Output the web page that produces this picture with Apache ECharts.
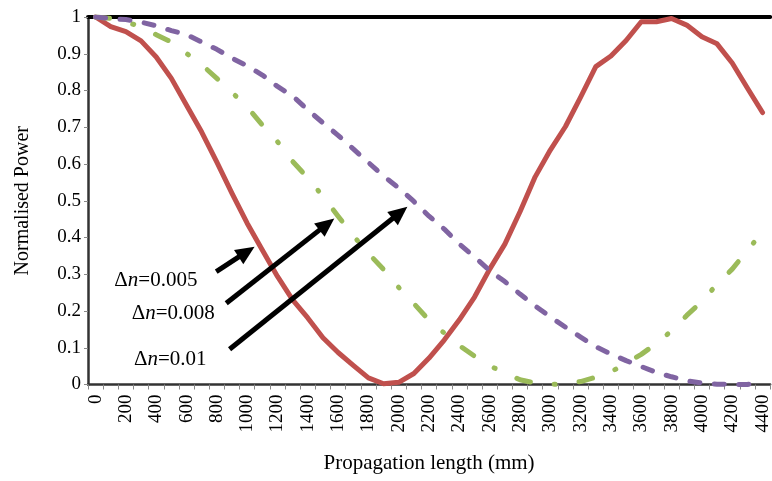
<!DOCTYPE html>
<html>
<head>
<meta charset="utf-8">
<script src="https://cdn.jsdelivr.net/npm/echarts@6/dist/echarts.min.js"></script>
<style>
html,body{margin:0;padding:0;background:#fff;}
#chart{width:772px;height:481px;}
</style>
</head>
<body>
<div id="chart"></div>
<script>
// Propagation length categories (mm)
const lengths = [0,100,200,300,400,500,600,700,800,900,1000,1100,1200,1300,1400,1500,1600,1700,1800,1900,2000,2100,2200,2300,2400,2500,2600,2700,2800,2900,3000,3100,3200,3300,3400,3500,3600,3700,3800,3900,4000,4100,4200,4300,4400];
// Normalised power, solid red curve
const redCurve = [1.0,0.974,0.96,0.935,0.891,0.833,0.76,0.687,0.605,0.52,0.439,0.366,0.294,0.23,0.181,0.127,0.087,0.052,0.018,0.002,0.006,0.03,0.072,0.121,0.176,0.238,0.314,0.382,0.47,0.565,0.638,0.702,0.782,0.865,0.894,0.936,0.987,0.987,0.996,0.978,0.946,0.927,0.875,0.807,0.74];
// Normalised power, green dash-dot curve
const greenCurve = [1.0,0.996,0.988,0.972,0.952,0.932,0.901,0.87,0.833,0.795,0.755,0.706,0.661,0.607,0.562,0.512,0.458,0.405,0.357,0.313,0.264,0.22,0.175,0.14,0.106,0.077,0.051,0.031,0.013,0.004,0.0,0.002,0.008,0.02,0.034,0.058,0.082,0.112,0.146,0.188,0.226,0.273,0.314,0.365,0.415];
// Normalised power, purple dashed curve
const purpleCurve = [1.0,0.996,0.993,0.986,0.976,0.963,0.952,0.932,0.912,0.888,0.867,0.842,0.811,0.785,0.747,0.712,0.678,0.641,0.604,0.567,0.535,0.498,0.458,0.423,0.382,0.347,0.31,0.28,0.246,0.214,0.184,0.156,0.129,0.103,0.083,0.065,0.049,0.033,0.021,0.01,0.004,0.001,0.0,0.0,0.007];
// Annotation labels
const annotationLabels = ['0.005','0.008','0.01'];

const FONT = '"Liberation Serif","Times New Roman",serif';
const chart = echarts.init(document.getElementById('chart'), null, {renderer:'canvas'});
const cats = lengths.map(String);

const option = {
  animation:false,
  backgroundColor:'#fff',
  grid:{left:88,right:0,top:17,bottom:96.5,containLabel:false},
  xAxis:[{
    type:'category',
    data:cats,
    boundaryGap:true,
    name:'Propagation length (mm)',
    nameLocation:'middle',
    nameGap:68,
    nameTextStyle:{fontFamily:FONT,fontSize:21,color:'#000'},
    axisLine:{onZero:false,lineStyle:{color:'#333',width:2.5}},
    axisTick:{show:true,interval:0,length:5,lineStyle:{color:'#888',width:1}},
    axisLabel:{interval:1,rotate:90,margin:10,fontFamily:FONT,fontSize:19,color:'#000'},
    splitLine:{show:false}
  },{
    type:'category',
    data:cats,
    position:'top',
    boundaryGap:true,
    axisLine:{onZero:false,lineStyle:{color:'#000',width:4}},
    axisTick:{show:false},
    axisLabel:{show:false},
    splitLine:{show:false}
  }],
  yAxis:{
    type:'value',
    min:0,max:1,interval:0.1,
    name:'Normalised Power',
    nameLocation:'middle',
    nameGap:55,
    nameRotate:90,
    nameTextStyle:{fontFamily:FONT,fontSize:20,color:'#000'},
    axisLine:{show:true,lineStyle:{color:'#333',width:2.5}},
    axisTick:{show:true,length:4,lineStyle:{color:'#888',width:1}},
    axisLabel:{margin:7,fontFamily:FONT,fontSize:19,color:'#000',
      formatter:function(v){return String(Math.round(v*10)/10);}},
    splitLine:{show:false}
  },
  series:[
    {type:'line',name:'red',data:redCurve,symbol:'none',z:2,
      lineStyle:{color:'#C0504D',width:5,cap:'round',join:'round'}},
    {type:'line',name:'green',data:greenCurve,symbol:'none',z:3,
      lineStyle:{color:'#9BBB59',width:5,type:[14,24,1,24],cap:'round',join:'round'}},
    {type:'line',name:'purple',data:purpleCurve,symbol:'none',z:4,
      lineStyle:{color:'#8064A2',width:5,type:[10,14.5],cap:'round',join:'round'}}
  ]
};
chart.setOption(option);

// annotation positions in data units (mm, normalised power)
const p0 = chart.convertToPixel({xAxisIndex:0,yAxisIndex:0},[0,0]);
const p1 = chart.convertToPixel({xAxisIndex:0,yAxisIndex:0},[lengths.length-1,1]);
function toPx(mm,v){
  return [p0[0]+(p1[0]-p0[0])*mm/lengths[lengths.length-1], p0[1]+(p1[1]-p0[1])*v];
}
const arrows = [
  {from:[796,0.307],to:[1049,0.375]},
  {from:[862,0.221],to:[1575,0.452]},
  {from:[884,0.096],to:[2057,0.484]}
];
const texts = [[398,0.282],[512,0.193],[493,0.067]];
const graphics = [];
arrows.forEach(function(a){
  const s = toPx(a.from[0],a.from[1]);
  const e = toPx(a.to[0],a.to[1]);
  const dx = e[0]-s[0], dy = e[1]-s[1];
  const L = Math.sqrt(dx*dx+dy*dy);
  const ux = dx/L, uy = dy/L;
  const hl = 19, hw = 8.5;
  const bx = e[0]-ux*hl, by = e[1]-uy*hl;
  graphics.push({type:'line',z:100,shape:{x1:s[0],y1:s[1],x2:bx+ux*2,y2:by+uy*2},
    style:{stroke:'#000',lineWidth:5,lineCap:'butt'}});
  graphics.push({type:'polygon',z:100,shape:{points:[[e[0],e[1]],[bx-uy*hw,by+ux*hw],[bx+uy*hw,by-ux*hw]]},
    style:{fill:'#000'}});
});
texts.forEach(function(t,i){
  const p = toPx(t[0],t[1]);
  graphics.push({type:'text',z:100,x:p[0],y:p[1],
    style:{text:'{a|Δ}{i|n}{a|=' + annotationLabels[i] + '}',
      align:'center',verticalAlign:'middle',
      rich:{a:{fontFamily:FONT,fontSize:21,fill:'#000'},i:{fontFamily:FONT,fontSize:21,fontStyle:'italic',fill:'#000'}}}});
});
chart.setOption({graphic:graphics});
</script>
</body>
</html>
